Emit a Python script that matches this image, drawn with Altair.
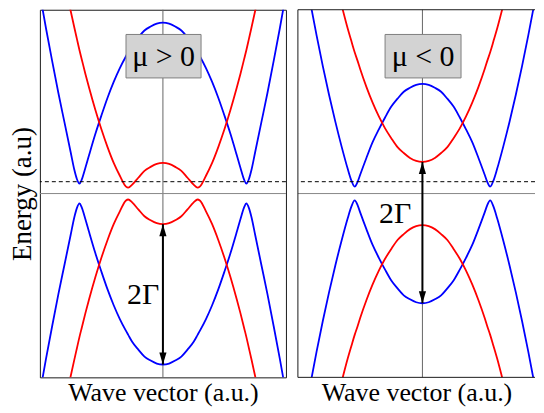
import altair as alt
import pandas as pd

# ---------------- data ----------------
# Left panel (mu > 0): wave vector (a.u.) and band energies (a.u.)
k_left = [-1.0, -0.95, -0.9, -0.85, -0.8, -0.75, -0.72, -0.7, -0.678, -0.66, -0.63, -0.6,
          -0.55, -0.5, -0.45, -0.4, -0.35, -0.3, -0.282, -0.25, -0.2, -0.15, -0.1, -0.05,
          0.0,
          0.05, 0.1, 0.15, 0.2, 0.25, 0.282, 0.3, 0.35, 0.4, 0.45, 0.5, 0.55,
          0.6, 0.63, 0.66, 0.678, 0.7, 0.72, 0.75, 0.8, 0.85, 0.9, 0.95, 1.0]
blue_up_left = [2.02, 1.67, 1.34, 1.02, 0.72, 0.42, 0.24, 0.15, 0.10, 0.14, 0.26, 0.39,
                0.60, 0.79, 0.97, 1.13, 1.27, 1.39, 1.43, 1.50, 1.58, 1.65, 1.69, 1.72,
                1.73,
                1.72, 1.69, 1.65, 1.58, 1.50, 1.43, 1.39, 1.27, 1.13, 0.97, 0.79, 0.60,
                0.39, 0.26, 0.14, 0.10, 0.15, 0.24, 0.42, 0.72, 1.02, 1.34, 1.67, 2.02]
red_up_left = [3.52, 3.14, 2.79, 2.46, 2.14, 1.85, 1.68, 1.57, 1.45, 1.36, 1.21, 1.07,
               0.85, 0.65, 0.47, 0.31, 0.18, 0.07, 0.06, 0.09, 0.16, 0.23, 0.27, 0.30,
               0.31,
               0.30, 0.27, 0.23, 0.16, 0.09, 0.06, 0.07, 0.18, 0.31, 0.47, 0.65, 0.85,
               1.07, 1.21, 1.36, 1.45, 1.57, 1.68, 1.85, 2.14, 2.46, 2.79, 3.14, 3.52]
blue_dn_left = [-2.02, -1.67, -1.34, -1.02, -0.72, -0.42, -0.24, -0.15, -0.10, -0.14, -0.26, -0.39,
                -0.60, -0.79, -0.97, -1.13, -1.27, -1.39, -1.43, -1.50, -1.58, -1.65, -1.69, -1.72,
                -1.73,
                -1.72, -1.69, -1.65, -1.58, -1.50, -1.43, -1.39, -1.27, -1.13, -0.97, -0.79, -0.60,
                -0.39, -0.26, -0.14, -0.10, -0.15, -0.24, -0.42, -0.72, -1.02, -1.34, -1.67, -2.02]
red_dn_left = [-3.52, -3.14, -2.79, -2.46, -2.14, -1.85, -1.68, -1.57, -1.45, -1.36, -1.21, -1.07,
               -0.85, -0.65, -0.47, -0.31, -0.18, -0.07, -0.06, -0.09, -0.16, -0.23, -0.27, -0.30,
               -0.31,
               -0.30, -0.27, -0.23, -0.16, -0.09, -0.06, -0.07, -0.18, -0.31, -0.47, -0.65, -0.85,
               -1.07, -1.21, -1.36, -1.45, -1.57, -1.68, -1.85, -2.14, -2.46, -2.79, -3.14, -3.52]

# Right panel (mu < 0)
k_right = [-1.0, -0.95, -0.9, -0.85, -0.8, -0.75, -0.7, -0.65, -0.6, -0.57, -0.544, -0.52,
           -0.5, -0.45, -0.4, -0.35, -0.3, -0.25, -0.2, -0.15, -0.1, -0.05,
           0.0,
           0.05, 0.1, 0.15, 0.2, 0.25, 0.3, 0.35, 0.4, 0.45, 0.5,
           0.52, 0.544, 0.57, 0.6, 0.65, 0.7, 0.75, 0.8, 0.85, 0.9, 0.95, 1.0]
blue_up_right = [2.64, 2.27, 1.93, 1.60, 1.29, 1.00, 0.73, 0.48, 0.25, 0.13, 0.07, 0.12,
                 0.19, 0.36, 0.52, 0.65, 0.77, 0.88, 0.96, 1.03, 1.07, 1.10,
                 1.11,
                 1.10, 1.07, 1.03, 0.96, 0.88, 0.77, 0.65, 0.52, 0.36, 0.19,
                 0.12, 0.07, 0.13, 0.25, 0.48, 0.73, 1.00, 1.29, 1.60, 1.93, 2.27, 2.64]
red_up_right = [4.08, 3.71, 3.37, 3.04, 2.73, 2.44, 2.16, 1.91, 1.67, 1.54, 1.43, 1.34,
                1.26, 1.08, 0.92, 0.78, 0.66, 0.56, 0.47, 0.41, 0.36, 0.33,
                0.32,
                0.33, 0.36, 0.41, 0.47, 0.56, 0.66, 0.78, 0.92, 1.08, 1.26,
                1.34, 1.43, 1.54, 1.67, 1.91, 2.16, 2.44, 2.73, 3.04, 3.37, 3.71, 4.08]
blue_dn_right = [-2.64, -2.27, -1.93, -1.60, -1.29, -1.00, -0.73, -0.48, -0.25, -0.13, -0.07, -0.12,
                 -0.19, -0.36, -0.52, -0.65, -0.77, -0.88, -0.96, -1.03, -1.07, -1.10,
                 -1.11,
                 -1.10, -1.07, -1.03, -0.96, -0.88, -0.77, -0.65, -0.52, -0.36, -0.19,
                 -0.12, -0.07, -0.13, -0.25, -0.48, -0.73, -1.00, -1.29, -1.60, -1.93, -2.27, -2.64]
red_dn_right = [-4.08, -3.71, -3.37, -3.04, -2.73, -2.44, -2.16, -1.91, -1.67, -1.54, -1.43, -1.34,
                -1.26, -1.08, -0.92, -0.78, -0.66, -0.56, -0.47, -0.41, -0.36, -0.33,
                -0.32,
                -0.33, -0.36, -0.41, -0.47, -0.56, -0.66, -0.78, -0.92, -1.08, -1.26,
                -1.34, -1.43, -1.54, -1.67, -1.91, -2.16, -2.44, -2.73, -3.04, -3.37, -3.71, -4.08]

fermi_level = 0.12            # dashed line
gap_left = [-0.31, -1.73]     # 2Gamma arrow ends, left panel
gap_right = [0.32, -1.11]     # 2Gamma arrow ends, right panel
labels = ["\u03bc > 0", "\u03bc < 0"]
gap_label = "2\u0393"

FONT = "Liberation Serif"
BLUE = "#0000ff"
RED = "#ff0000"
FRAME = "#1a1a1a"
E_DOMAIN = [-1.86, 1.86]
PLOT_H = 369


def bands_df(k, curves):
    rows = []
    for name, color, vals in curves:
        for kk, e in zip(k, vals):
            rows.append({"k": kk, "E": e, "band": name, "col": color})
    return pd.DataFrame(rows)


def panel(df, width, xdom, gap, lab_k, lab_E, text, show_y):
    xs = alt.Scale(domain=xdom, nice=False, zero=False)
    ys = alt.Scale(domain=E_DOMAIN, nice=False, zero=False)
    xaxis = alt.Axis(title="Wave vector (a.u.)", labels=False, ticks=False, domain=False,
                     grid=False, titleFont=FONT, titleFontSize=26, titleFontWeight="normal",
                     titleColor="black", titlePadding=2)
    if show_y:
        yenc = alt.Y("E:Q", scale=ys,
                     axis=alt.Axis(title="Energy (a.u)", labels=False, ticks=False,
                                   domain=False, grid=False, titleFont=FONT, titleFontSize=27,
                                   titleFontWeight="normal", titleColor="black",
                                   titlePadding=3))
    else:
        yenc = alt.Y("E:Q", scale=ys, axis=None)

    base_lines = pd.DataFrame({"k": [0.0], "E": [0.0], "f": [fermi_level],
                               "top": [E_DOMAIN[1]], "bot": [E_DOMAIN[0]], "left": [xdom[0]]})
    vline = alt.Chart(base_lines).mark_rule(color="#666666", strokeWidth=1).encode(
        x=alt.X("k:Q", scale=xs, axis=xaxis))
    hline = alt.Chart(base_lines).mark_rule(color="#888888", strokeWidth=1).encode(y=yenc)
    dash = alt.Chart(base_lines).mark_rule(color="black", strokeWidth=1,
                                           strokeDash=[4, 3]).encode(
        y=alt.Y("f:Q", scale=ys))

    lines = alt.Chart(df).mark_line(strokeWidth=1.8, clip=True,
                                    interpolate="monotone").encode(
        x=alt.X("k:Q", scale=xs),
        y=alt.Y("E:Q", scale=ys),
        detail="band:N",
        color=alt.Color("col:N", scale=None),
        order="k:Q")

    arr = pd.DataFrame({"k": [0.0], "top": [gap[0]], "bot": [gap[1]]})
    shaft = alt.Chart(arr).mark_rule(color="black", strokeWidth=2).encode(
        x=alt.X("k:Q", scale=xs), y=alt.Y("top:Q", scale=ys), y2="bot:Q")
    head_up = alt.Chart(arr).mark_point(shape="M0,-1L0.6,1L-0.6,1Z", filled=True, size=144,
                                        color="black", opacity=1, yOffset=6).encode(
        x=alt.X("k:Q", scale=xs), y=alt.Y("top:Q", scale=ys))
    head_dn = alt.Chart(arr).mark_point(shape="M0,1L0.6,-1L-0.6,-1Z", filled=True, size=144,
                                        color="black", opacity=1, yOffset=-6).encode(
        x=alt.X("k:Q", scale=xs), y=alt.Y("bot:Q", scale=ys))

    lab = pd.DataFrame({"k": [lab_k], "E": [lab_E], "t": [gap_label]})
    gap_txt = alt.Chart(lab).mark_text(font=FONT, fontSize=30, align="right",
                                       baseline="middle", color="black").encode(
        x=alt.X("k:Q", scale=xs), y=alt.Y("E:Q", scale=ys), text="t:N")

    box = pd.DataFrame({"k1": [-0.30], "k2": [0.31], "e1": [1.17], "e2": [1.61],
                        "kc": [0.005], "ec": [1.38], "t": [text]})
    rect = alt.Chart(box).mark_rect(fill="#d3d3d3", stroke="#7f7f7f", strokeWidth=1).encode(
        x=alt.X("k1:Q", scale=xs), x2="k2:Q", y=alt.Y("e1:Q", scale=ys), y2="e2:Q")
    rect_txt = alt.Chart(box).mark_text(font=FONT, fontSize=30, align="center",
                                        baseline="middle", color="black").encode(
        x=alt.X("kc:Q", scale=xs), y=alt.Y("ec:Q", scale=ys), text="t:N")

    layers = [vline, hline, lines, dash, shaft, head_up, head_dn, gap_txt, rect, rect_txt]
    if not show_y:
        # frame of the right panel, whose right side runs off the page
        top_b = alt.Chart(base_lines).mark_rule(color=FRAME, strokeWidth=1).encode(
            y=alt.Y("top:Q", scale=ys))
        bot_b = alt.Chart(base_lines).mark_rule(color=FRAME, strokeWidth=1).encode(
            y=alt.Y("bot:Q", scale=ys))
        left_b = alt.Chart(base_lines).mark_rule(color=FRAME, strokeWidth=1).encode(
            x=alt.X("left:Q", scale=xs))
        layers += [top_b, bot_b, left_b]
    ch = alt.layer(*layers).properties(width=width, height=PLOT_H)
    if not show_y:
        ch = ch.properties(view=alt.ViewBackground(stroke="transparent"))
    return ch


left_df = bands_df(k_left, [("b_up", BLUE, blue_up_left), ("r_up", RED, red_up_left),
                            ("b_dn", BLUE, blue_dn_left), ("r_dn", RED, red_dn_left)])
right_df = bands_df(k_right, [("b_up", BLUE, blue_up_right), ("r_up", RED, red_up_right),
                              ("b_dn", BLUE, blue_dn_right), ("r_dn", RED, red_dn_right)])

left = panel(left_df, 247, [-1.0, 1.0], gap_left, -0.03, -1.03, labels[0], True)
right = panel(right_df, 238, [-1.0, 0.904], gap_right, -0.09, -0.21, labels[1], False)

chart = alt.hconcat(left, right, spacing=10).properties(
    padding={"left": 0, "top": 0, "right": 0, "bottom": 0}
).configure_view(stroke=FRAME, strokeWidth=1)

chart.save("out.html", embed_options={"renderer": "svg", "actions": False})
